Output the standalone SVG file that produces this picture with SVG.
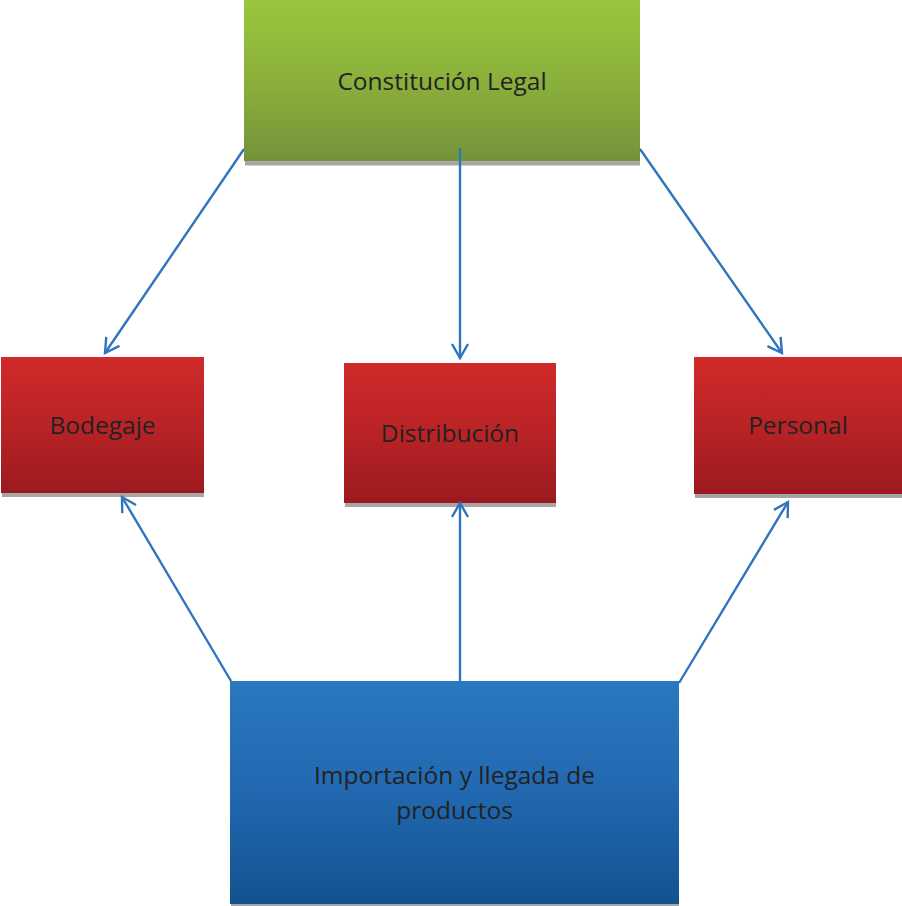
<svg xmlns="http://www.w3.org/2000/svg" width="902" height="906" viewBox="0 0 902 906">
<defs>
<linearGradient id="gGreen" x1="0" y1="0" x2="0" y2="1">
<stop offset="0" stop-color="#9bc63d"/><stop offset="0.5" stop-color="#8ab03b"/><stop offset="1" stop-color="#74933a"/>
</linearGradient>
<linearGradient id="gRed" x1="0" y1="0" x2="0" y2="1">
<stop offset="0" stop-color="#d02a2a"/><stop offset="0.5" stop-color="#b92326"/><stop offset="1" stop-color="#9b1a1f"/>
</linearGradient>
<linearGradient id="gBlue" x1="0" y1="0" x2="0" y2="1">
<stop offset="0" stop-color="#2a78bf"/><stop offset="0.5" stop-color="#2168b0"/><stop offset="1" stop-color="#13528f"/>
</linearGradient>
<marker id="arr" viewBox="0 0 20 20" refX="17" refY="10" markerWidth="20" markerHeight="20" markerUnits="userSpaceOnUse" orient="auto">
<path d="M3,2 L17,10 L3,18" fill="none" stroke="#2f75bd" stroke-width="2.4"/>
</marker>
</defs>
<style>
.shadow{fill:#a6a6a6}
.lbl{font-family:"Open Sans","Liberation Sans",sans-serif;font-size:24.5px;fill:#222222;text-anchor:middle}
.conn{stroke:#2f75bd;stroke-width:2.4;fill:none;marker-end:url(#arr)}
</style>
<g id="constitucion">
<rect class="shadow" x="245" y="4" width="395" height="161.5"/>
<rect x="244" y="0" width="396" height="161" fill="url(#gGreen)"/>
<text class="lbl" x="442" y="90">Constitución Legal</text>
</g>
<g id="bodegaje">
<rect class="shadow" x="2" y="361" width="202" height="136"/>
<rect x="1" y="357" width="203" height="136" fill="url(#gRed)"/>
<text class="lbl" x="102.5" y="434">Bodegaje</text>
</g>
<g id="distribucion">
<rect class="shadow" x="345" y="367" width="211" height="140"/>
<rect x="344" y="363" width="212" height="140" fill="url(#gRed)"/>
<text class="lbl" x="450" y="442">Distribución</text>
</g>
<g id="personal">
<rect class="shadow" x="695" y="361" width="207" height="137"/>
<rect x="694" y="357" width="208" height="137" fill="url(#gRed)"/>
<text class="lbl" x="798" y="434">Personal</text>
</g>
<g id="importacion">
<rect class="shadow" x="231" y="685" width="448" height="221"/>
<rect x="230" y="681" width="449" height="223" fill="url(#gBlue)"/>
<text class="lbl" x="454.5" y="784">Importación y llegada de</text>
<text class="lbl" x="454.5" y="819">productos</text>
</g>
<g id="connectors">
<line class="conn" x1="244" y1="149" x2="105" y2="353"/>
<line class="conn" x1="460" y1="148" x2="460" y2="358"/>
<line class="conn" x1="640" y1="149" x2="782" y2="353"/>
<line class="conn" x1="231" y1="681" x2="122" y2="497"/>
<line class="conn" x1="460" y1="681" x2="460" y2="503"/>
<line class="conn" x1="679" y1="683" x2="788" y2="502"/>
</g>
</svg>
